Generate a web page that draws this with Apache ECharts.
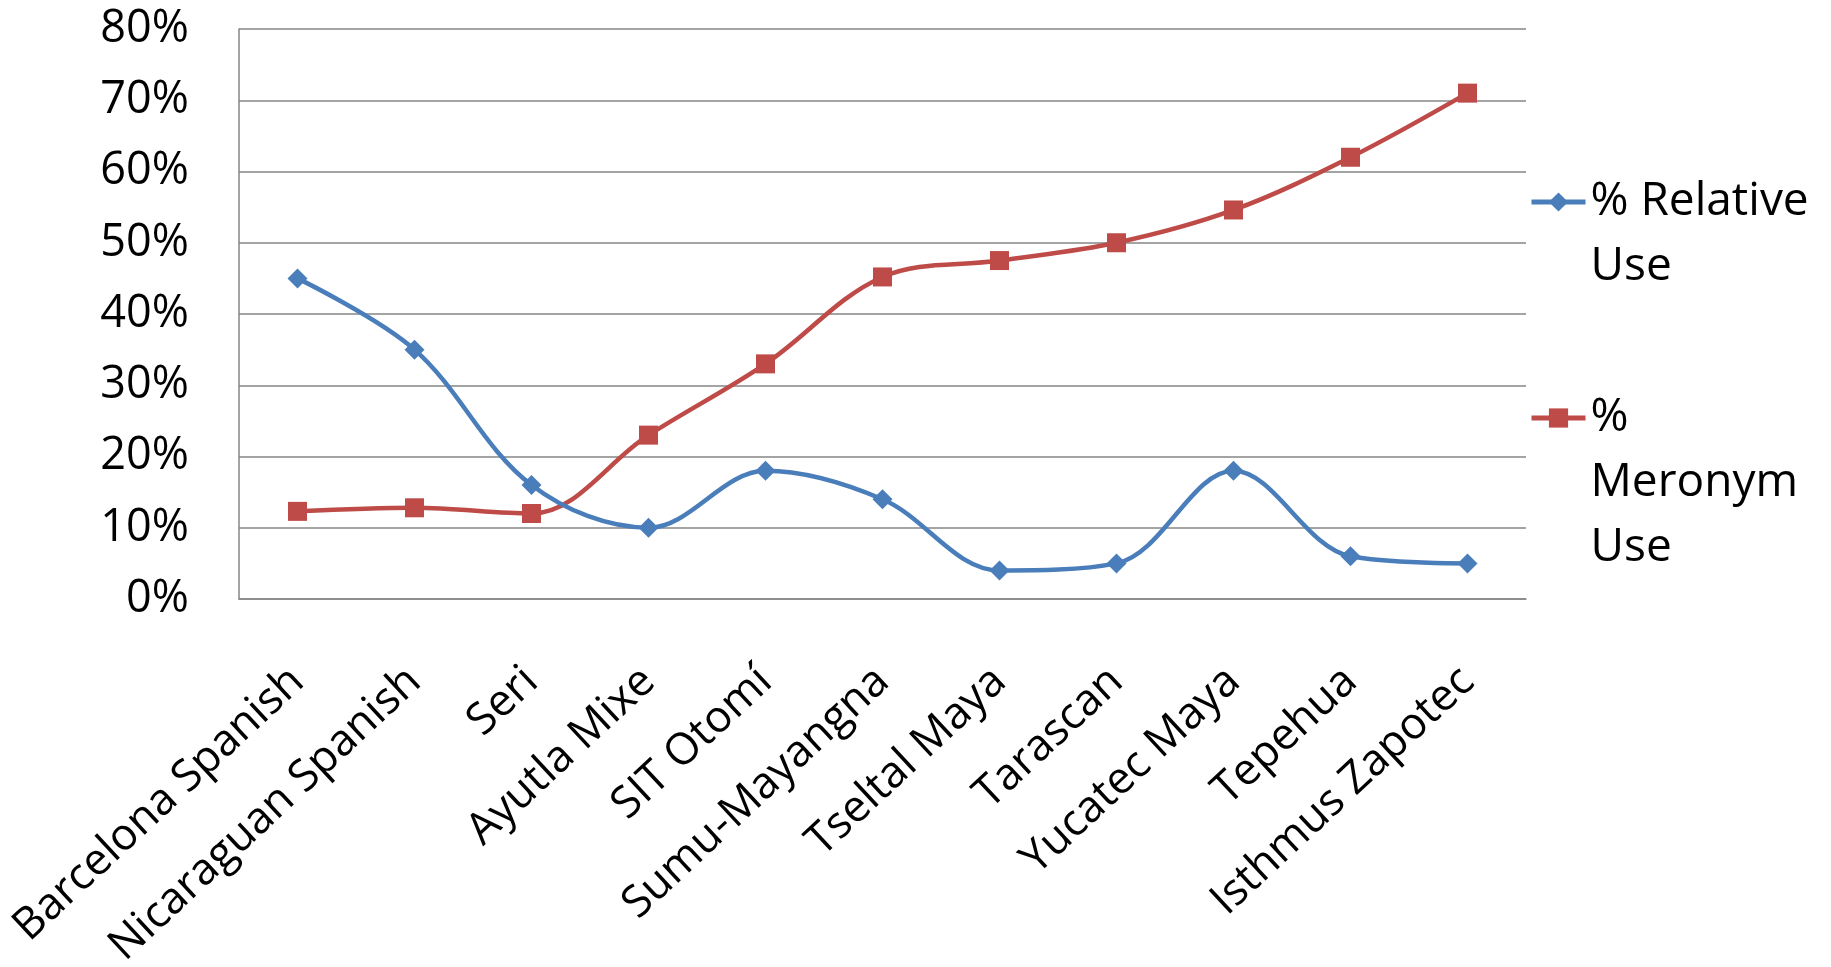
<!DOCTYPE html>
<html>
<head>
<meta charset="utf-8">
<script src="https://cdn.jsdelivr.net/npm/echarts@6/dist/echarts.min.js"></script>
<style>
  html, body { margin: 0; padding: 0; background: #ffffff; }
  #chart { width: 1831px; height: 967px; }
</style>
</head>
<body>
<div id="chart"></div>
<script>
// Languages compared
const categories = [
  'Barcelona Spanish', 'Nicaraguan Spanish', 'Seri', 'Ayutla Mixe', 'SIT Otomí',
  'Sumu-Mayangna', 'Tseltal Maya', 'Tarascan', 'Yucatec Maya', 'Tepehua', 'Isthmus Zapotec'
];

// Share of descriptions using a relative strategy (%)
const relativeUse = [45, 35, 16, 10, 18, 14, 4, 5, 18, 6, 5];

// Share of descriptions using a meronym strategy (%)
const meronymUse = [12.3, 12.8, 12, 23, 33, 45.2, 47.5, 50, 54.6, 62, 71];

const seriesNames = ['% Relative Use', '% Meronym Use'];

// Legend text, broken over lines; leading blank lines keep the key beside the first line
const legendLabels = {
  '% Relative Use': '\n% Relative\nUse',
  '% Meronym Use': '\n\n%\nMeronym\nUse'
};

const FONT = '"Open Sans", "Noto Sans", sans-serif';
const gridColor = '#868686';
const BLUE = '#4A7EBB';
const RED = '#BE4B48';
const LINE_H = 65;

const chart = echarts.init(document.getElementById('chart'), null, { renderer: 'canvas' });

const legendText = {
  fontFamily: FONT,
  fontSize: 46,
  color: '#000000',
  lineHeight: LINE_H
};

function legendBlock(name, top) {
  return {
    data: [name],
    orient: 'vertical',
    left: 1524,
    top: top,
    itemWidth: 54,
    itemHeight: 24,
    itemGap: 0,
    lineStyle: { width: 5 },
    textStyle: legendText,
    formatter: n => legendLabels[n],
    selectedMode: false
  };
}

chart.setOption({
  backgroundColor: '#ffffff',
  animation: false,
  grid: {
    left: 239, right: 305, top: 29, bottom: 368,
    containLabel: false,
    outerBoundsMode: 'none'
  },
  legend: [
    legendBlock(seriesNames[0], 197 - LINE_H * 1.5),
    legendBlock(seriesNames[1], 413 - LINE_H * 2.5)
  ],
  xAxis: {
    type: 'category',
    data: categories,
    boundaryGap: true,
    axisLine: { show: true, lineStyle: { color: gridColor, width: 1.5 } },
    axisTick: { show: false },
    axisLabel: {
      interval: 0,
      rotate: 43,
      margin: 76,
      fontFamily: FONT,
      fontSize: 44,
      color: '#000000'
    },
    splitLine: { show: false }
  },
  yAxis: {
    type: 'value',
    min: 0,
    max: 80,
    interval: 10,
    axisLine: { show: true, lineStyle: { color: gridColor, width: 1.5 } },
    axisTick: { show: false },
    axisLabel: {
      margin: 50,
      fontFamily: FONT,
      fontSize: 45,
      color: '#000000',
      formatter: v => v + '%'
    },
    splitLine: { show: true, lineStyle: { color: gridColor, width: 1.5 } }
  },
  series: [
    {
      name: seriesNames[0],
      type: 'line',
      data: relativeUse,
      smooth: 0.35,
      symbol: 'diamond',
      symbolSize: 20,
      itemStyle: { color: BLUE },
      lineStyle: { color: BLUE, width: 4.5 },
      z: 3
    },
    {
      name: seriesNames[1],
      type: 'line',
      data: meronymUse,
      smooth: 0.35,
      symbol: 'rect',
      symbolSize: 19,
      itemStyle: { color: RED },
      lineStyle: { color: RED, width: 4.5 },
      z: 2
    }
  ]
});
</script>
</body>
</html>
